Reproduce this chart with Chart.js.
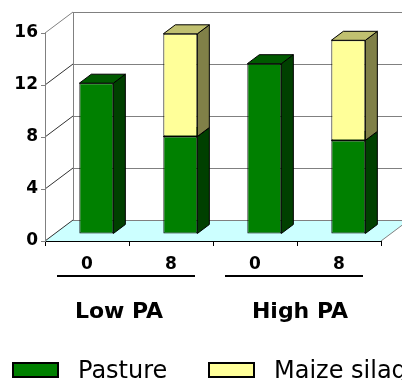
<!DOCTYPE html>
<html>
<head>
<meta charset="utf-8">
<script src="https://cdn.jsdelivr.net/npm/chart.js@4/dist/chart.umd.min.js"></script>
<style>
  html, body { margin: 0; padding: 0; background: #fff; overflow: hidden; }
  #wrap { width: 402px; height: 380px; position: relative; }
</style>
</head>
<body>
<div id="wrap"><canvas id="c" width="402" height="380"></canvas></div>
<script>
// Supplement level (kg DM) within each pasture-allowance group
const categories = ['0', '8', '0', '8'];
const groups = ['Low PA', 'High PA'];
const yTicks = [0, 4, 8, 12, 16];

// Intake by feed source
const pasture = [11.6, 7.5, 13.1, 7.2];
const maizeSilage = [0, 7.9, 0, 7.7];

// 3D look: wall depth and where the columns sit inside it
const WALL_DX = 28, WALL_DY = -21;
const BAR_DX = 28 / 3, BAR_DY = -7;
const COL_DX = 12, COL_DY = -9;

function poly(ctx, pts) {
  ctx.beginPath();
  ctx.moveTo(pts[0][0], pts[0][1]);
  for (let i = 1; i < pts.length; i++) ctx.lineTo(pts[i][0], pts[i][1]);
  ctx.closePath();
}

// Floor, back wall and side wall
const wallsPlugin = {
  id: 'walls',
  beforeDraw(chart) {
    const { ctx, chartArea } = chart;
    const { left, right, bottom } = chartArea;
    const ys = chart.scales.y;
    ctx.save();
    // floor
    poly(ctx, [[left, bottom], [right, bottom], [right + WALL_DX, bottom + WALL_DY], [left + WALL_DX, bottom + WALL_DY]]);
    ctx.fillStyle = '#ccffff';
    ctx.fill();
    ctx.lineWidth = 1;
    // back wall gridlines
    ctx.strokeStyle = '#808080';
    yTicks.forEach(v => {
      const yy = Math.round(ys.getPixelForValue(v) + WALL_DY) + 0.5;
      ctx.beginPath();
      ctx.moveTo(left + WALL_DX, yy);
      ctx.lineTo(right + WALL_DX, yy);
      ctx.stroke();
    });
    // back wall left edge
    const bx = Math.round(left + WALL_DX) + 0.5;
    ctx.beginPath();
    ctx.moveTo(bx, ys.getPixelForValue(ys.max) + WALL_DY);
    ctx.lineTo(bx, ys.getPixelForValue(0) + WALL_DY);
    ctx.stroke();
    // floor right edge
    ctx.beginPath();
    ctx.moveTo(right, bottom);
    ctx.lineTo(right + WALL_DX, bottom + WALL_DY);
    ctx.stroke();
    // side wall gridlines
    yTicks.forEach(v => {
      const yy = ys.getPixelForValue(v);
      ctx.strokeStyle = v === ys.max ? '#808080' : '#303030';
      ctx.beginPath();
      ctx.moveTo(left, yy);
      ctx.lineTo(left + WALL_DX, yy + WALL_DY);
      ctx.stroke();
    });
    ctx.restore();
  }
};

// Side and top faces of the columns; the front faces are the Chart.js bars
const columnsPlugin = {
  id: 'columns',
  beforeDatasetsDraw(chart) {
    const ctx = chart.ctx;
    ctx.save();
    ctx.translate(BAR_DX, BAR_DY);
    chart.data.datasets.forEach((ds, i) => {
      const meta = chart.getDatasetMeta(i);
      meta.data.forEach((bar, j) => {
        if (!ds.data[j]) return;
        const { x, y, base, width } = bar.getProps(['x', 'y', 'base', 'width'], true);
        const l = x - width / 2, r = x + width / 2;
        ctx.lineWidth = 1;
        ctx.strokeStyle = '#000';
        poly(ctx, [[r, y], [r + COL_DX, y + COL_DY], [r + COL_DX, base + COL_DY], [r, base]]);
        ctx.fillStyle = ds.sideColor;
        ctx.fill();
        ctx.stroke();
        poly(ctx, [[l, y], [r, y], [r + COL_DX, y + COL_DY], [l + COL_DX, y + COL_DY]]);
        ctx.fillStyle = ds.topColor;
        ctx.fill();
        ctx.stroke();
      });
    });
  },
  afterDatasetsDraw(chart) {
    chart.ctx.restore();
  }
};

// Group captions under the category labels, and the legend
const captionsPlugin = {
  id: 'captions',
  afterDraw(chart) {
    const { ctx } = chart;
    const xs = chart.scales.x;
    const nudge = [-7, 6];
    ctx.save();
    groups.forEach((g, gi) => {
      const a = xs.getPixelForValue(gi * 2);
      const b = xs.getPixelForValue(gi * 2 + 1);
      ctx.fillStyle = '#000';
      ctx.fillRect(a - 30, 275, (b + 24) - (a - 30), 2);
      ctx.font = 'bold 22px "DejaVu Sans"';
      ctx.textAlign = 'center';
      ctx.textBaseline = 'alphabetic';
      ctx.fillText(g, (a + b) / 2 - 3 + nudge[gi], 318);
    });
    // legend
    const items = [
      { ds: chart.data.datasets[0], x: 13 },
      { ds: chart.data.datasets[1], x: 209 }
    ];
    items.forEach(it => {
      ctx.fillStyle = it.ds.backgroundColor;
      ctx.fillRect(it.x, 363, 45, 14);
      ctx.lineWidth = 2;
      ctx.strokeStyle = '#000';
      ctx.strokeRect(it.x, 363, 45, 14);
      ctx.fillStyle = '#000';
      ctx.font = '24px "DejaVu Sans"';
      ctx.textAlign = 'left';
      ctx.textBaseline = 'alphabetic';
      ctx.fillText(it.ds.label, it.x + 65, 378);
    });
    ctx.restore();
  }
};

Chart.defaults.font.family = '"DejaVu Sans"';

new Chart(document.getElementById('c'), {
  type: 'bar',
  data: {
    labels: categories,
    datasets: [
      {
        label: 'Pasture',
        data: pasture,
        backgroundColor: '#008000',
        sideColor: '#004000',
        topColor: '#005a00',
        borderColor: '#000',
        borderWidth: 1,
        borderSkipped: false,
        barPercentage: 34 / 84,
        categoryPercentage: 1,
        clip: false
      },
      {
        label: 'Maize silage',
        data: maizeSilage,
        backgroundColor: '#ffff99',
        sideColor: '#808048',
        topColor: '#c0c070',
        borderColor: '#000',
        borderWidth: 1,
        borderSkipped: false,
        barPercentage: 34 / 84,
        categoryPercentage: 1,
        clip: false
      }
    ]
  },
  options: {
    responsive: false,
    animation: false,
    events: [],
    layout: { padding: { top: 33, right: 21, left: 0, bottom: 0 } },
    plugins: { legend: { display: false }, tooltip: { enabled: false } },
    scales: {
      x: {
        stacked: true,
        grid: { offset: true, drawOnChartArea: false, color: '#000', tickLength: 5 },
        border: { color: '#000', width: 1 },
        ticks: { color: '#000', font: { size: 17, weight: 'bold' }, padding: 8, maxRotation: 0 },
        afterFit(s) { s.height = 139; }
      },
      y: {
        stacked: true,
        min: 0,
        max: 16,
        grid: { drawOnChartArea: false, color: '#808080', tickLength: 4 },
        border: { color: '#808080', width: 1 },
        ticks: { stepSize: 4, color: '#000', font: { size: 17, weight: 'bold' }, padding: 3 },
        afterFit(s) { s.width = 45; }
      }
    }
  },
  plugins: [wallsPlugin, columnsPlugin, captionsPlugin]
});
</script>
</body>
</html>
